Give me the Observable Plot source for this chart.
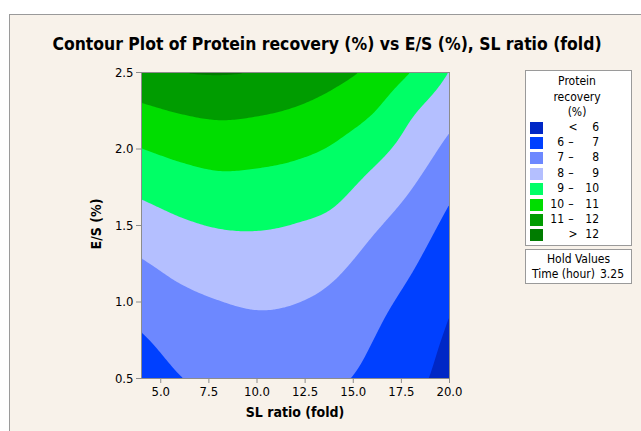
<!DOCTYPE html>
<html><head><meta charset="utf-8">
<script src="https://cdn.jsdelivr.net/npm/d3@7"></script>
<script src="https://cdn.jsdelivr.net/npm/@observablehq/plot@0.6"></script>
<style>
html,body{margin:0;padding:0;background:#fff;width:641px;height:431px;overflow:hidden;position:relative;font-family:"DejaVu Sans Condensed","DejaVu Sans",sans-serif;color:#000;}
#frame{position:absolute;left:9px;top:14px;width:720px;height:520px;border:1px solid #9a9a9a;background:#f8f2ea;}
#title{position:absolute;left:0;width:654px;top:34px;text-align:center;font-weight:bold;font-size:17.4px;white-space:nowrap;}
#chart{position:absolute;left:0;top:0;}
.lab{position:absolute;font-weight:bold;font-size:14px;white-space:nowrap;}
.box{position:absolute;background:#fff;border:1px solid #9a9a9a;box-sizing:border-box;}
.lt{position:absolute;font-size:12px;white-space:nowrap;}
.sw{position:absolute;width:13px;height:12px;}
</style></head>
<body>
<div id="frame"></div>
<div id="title">Contour Plot of Protein recovery (%) vs E/S (%), SL ratio (fold)</div>
<div id="chart"></div>
<div class="lab" id="xlab" style="left:245px;top:404px;width:100px;text-align:center;">SL ratio (fold)</div>
<div class="lab" id="ylab" style="left:46px;top:216px;width:100px;text-align:center;transform:rotate(-90deg);">E/S (%)</div>
<div class="box" id="legbox" style="left:525px;top:70px;width:107px;height:176px;"></div>
<div class="box" id="holdbox" style="left:525px;top:249px;width:107px;height:35px;"></div>
<div id="legend"></div>
<script>
// SL ratio (fold) grid columns and E/S (%) grid rows
const slRatio = [4, 6, 8, 10, 12, 14, 16, 18, 20];
const esRatio = [0.5, 0.75, 1.0, 1.25, 1.5, 1.75, 2.0, 2.25, 2.5];
// Protein recovery (%), one row per E/S value
const rec050 = [6.51, 6.97, 7.22, 7.36, 7.33, 7.13, 6.78, 6.24, 5.72];
const rec075 = [6.91, 7.33, 7.55, 7.69, 7.65, 7.45, 7.01, 6.46, 5.87];
const rec100 = [7.38, 7.76, 7.98, 8.09, 8.02, 7.78, 7.29, 6.75, 6.09];
const rec125 = [7.92, 8.28, 8.48, 8.55, 8.47, 8.20, 7.67, 7.11, 6.38];
const rec150 = [8.54, 8.86, 9.05, 9.08, 8.97, 8.74, 8.14, 7.54, 6.76];
const rec175 = [9.23, 9.52, 9.70, 9.68, 9.55, 9.29, 8.69, 8.04, 7.21];
const rec200 = [9.99, 10.26, 10.42, 10.35, 10.20, 9.90, 9.34, 8.60, 7.75];
const rec225 = [10.82, 11.07, 11.20, 11.12, 10.92, 10.57, 10.06, 9.15, 8.36];
const rec250 = [11.73, 11.99, 12.06, 11.97, 11.74, 11.32, 10.78, 9.98, 8.97];
const recoveryRows = [rec050, rec075, rec100, rec125, rec150, rec175, rec200, rec225, rec250];
// contour levels and colours
const levels = [6, 7, 8, 9, 10, 11, 12];
const levelColors = ["#0027c6", "#0040ff", "#6d88ff", "#b4bfff", "#00ff66", "#00dd00", "#009c00", "#007c00"];
// tick labels
const xTicks = [5, 7.5, 10, 12.5, 15, 17.5, 20];
const yTicks = [0.5, 1.0, 1.5, 2.0, 2.5];
const holdName = "Time (hour)";
const holdValue = "3.25";

const grid = [];
esRatio.forEach((y, j) => slRatio.forEach((x, i) => grid.push({x, y, v: recoveryRows[j][i]})));

// smooth (Catmull-Rom bicubic) interpolation of the regular grid onto the raster
function bicubicGrid(nx, ny) {
  return (index, width, height, X, Y, V) => {
    const x0 = X[0], dx = (X[nx - 1] - X[0]) / (nx - 1);
    const y0 = Y[0], dy = (Y[(ny - 1) * nx] - Y[0]) / (ny - 1);
    const g = (i, j) => {
      if (i < 0) return 2 * g(0, j) - g(1, j);
      if (i > nx - 1) return 2 * g(nx - 1, j) - g(nx - 2, j);
      if (j < 0) return 2 * g(i, 0) - g(i, 1);
      if (j > ny - 1) return 2 * g(i, ny - 1) - g(i, ny - 2);
      return V[j * nx + i];
    };
    const cr = (p0, p1, p2, p3, t) =>
      0.5 * (2 * p1 + (p2 - p0) * t + (2 * p0 - 5 * p1 + 4 * p2 - p3) * t * t + (3 * p1 - p0 - 3 * p2 + p3) * t * t * t);
    const W = new Float64Array(width * height);
    for (let py = 0, k = 0; py < height; ++py) {
      let v = Math.max(0, Math.min(ny - 1, (py + 0.5 - y0) / dy));
      const j = Math.min(Math.floor(v), ny - 2), s = v - j;
      for (let px = 0; px < width; ++px, ++k) {
        let u = Math.max(0, Math.min(nx - 1, (px + 0.5 - x0) / dx));
        const i = Math.min(Math.floor(u), nx - 2), t = u - i;
        const r = [];
        for (let m = -1; m <= 2; ++m) r.push(cr(g(i - 1, j + m), g(i, j + m), g(i + 1, j + m), g(i + 2, j + m), t));
        W[k] = cr(r[0], r[1], r[2], r[3], s);
      }
    }
    return W;
  };
}

const chart = Plot.plot({
  width: 641, height: 431,
  marginLeft: 141, marginRight: 192, marginTop: 72, marginBottom: 53,
  style: {background: "transparent", fontFamily: '"DejaVu Sans Condensed","DejaVu Sans",sans-serif', fontSize: "13px", color: "#000"},
  x: {domain: [4, 20]},
  y: {domain: [0.5, 2.5]},
  color: {type: "threshold", domain: levels, range: levelColors},
  marks: [
    Plot.contour(grid, {x: "x", y: "y", fill: "v", interpolate: bicubicGrid(slRatio.length, esRatio.length),
      thresholds: [levels[0] - 1, ...levels], x1: 4, x2: 20, y1: 0.5, y2: 2.5, stroke: "none"}),
    Plot.frame({stroke: "#8c8c8c"}),
    Plot.axisX({ticks: xTicks, tickFormat: d => d.toFixed(1), label: null, tickSize: 5, tickPadding: 3, stroke: "#8c8c8c"}),
    Plot.axisY({ticks: yTicks, tickFormat: d => d.toFixed(1), label: null, tickSize: 5, tickPadding: 3, stroke: "#8c8c8c"})
  ]
});
document.getElementById("chart").appendChild(chart);

// legend
const leg = document.getElementById("legend");
function add(cls, css, text) {
  const d = document.createElement("div");
  d.className = cls; d.style.cssText = css; if (text != null) d.textContent = text;
  leg.appendChild(d); return d;
}
["Protein", "recovery", "(%)"].forEach((t, i) =>
  add("lt", `left:525px;width:104px;text-align:center;top:${74 + i * 15.5}px;`, t));
levelColors.forEach((c, i) => {
  const cy = 127.7 + i * 15.37;
  add("sw", `left:530px;top:${cy - 6}px;background:${c};`);
  const top = cy - 8;
  if (i === 0 || i === levelColors.length - 1) {
    add("lt", `left:566px;width:14px;text-align:center;top:${top}px;`, i === 0 ? "<" : ">");
    add("lt", `left:580px;width:19px;text-align:right;top:${top}px;`, String(i === 0 ? levels[0] : levels[levels.length - 1]));
  } else {
    add("lt", `left:545px;width:19px;text-align:right;top:${top}px;`, String(levels[i - 1]));
    add("lt", `left:566px;width:10px;text-align:center;top:${top}px;`, "–");
    add("lt", `left:580px;width:19px;text-align:right;top:${top}px;`, String(levels[i]));
  }
});
add("lt", "left:525px;width:107px;text-align:center;top:252px;", "Hold Values");
add("lt", "left:532px;top:267px;", holdName);
add("lt", "left:590px;width:34px;text-align:right;top:267px;", holdValue);
</script>
</body></html>
